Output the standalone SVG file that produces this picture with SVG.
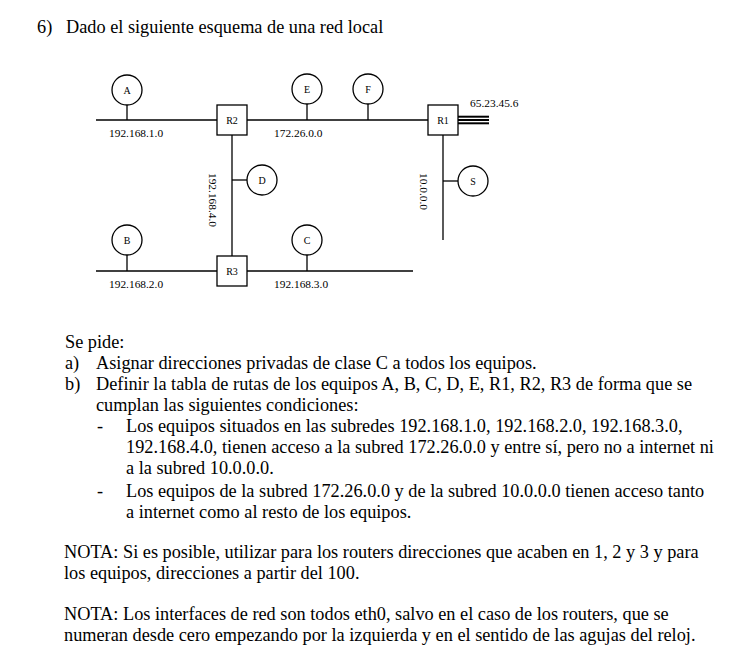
<svg xmlns="http://www.w3.org/2000/svg" width="755" height="669" viewBox="0 0 755 669">
<style>
  .ln { stroke: #000; stroke-width: 1.3; fill: none; }
  .node { stroke: #000; stroke-width: 1.3; fill: #fff; }
  .nl { font-family: "Liberation Serif", "Times New Roman", serif; font-size: 10px; fill: #000; text-anchor: middle; }
  .net { font-family: "Liberation Serif", "Times New Roman", serif; font-size: 11.4px; fill: #000; }
  .body { font-family: "Liberation Serif", "Times New Roman", serif; font-size: 18.3px; fill: #000; }
  .title { font-family: "Liberation Serif", "Times New Roman", serif; font-size: 18.3px; fill: #000; }
</style>
<rect width="755" height="669" fill="#fff"/>
<text class="title" x="37" y="33">6)</text>
<text class="title" x="66" y="33">Dado el siguiente esquema de una red local</text>

<g id="connectors">
  <line class="ln" x1="96" y1="120" x2="217" y2="120"/>
  <line class="ln" x1="247" y1="120" x2="428" y2="120"/>
  <line class="ln" x1="232" y1="135" x2="232" y2="256"/>
  <line class="ln" x1="96" y1="271" x2="217" y2="271"/>
  <line class="ln" x1="247" y1="271" x2="413" y2="271"/>
  <line class="ln" x1="443" y1="135" x2="443" y2="240"/>
  <line class="ln" x1="127" y1="105" x2="127" y2="120"/>
  <line class="ln" x1="307" y1="104" x2="307" y2="120"/>
  <line class="ln" x1="368" y1="104" x2="368" y2="120"/>
  <line class="ln" x1="127" y1="255" x2="127" y2="271"/>
  <line class="ln" x1="307" y1="255" x2="307" y2="271"/>
  <line class="ln" x1="232" y1="180" x2="247" y2="180"/>
  <line class="ln" x1="443" y1="181" x2="458" y2="181"/>
  <line stroke="#000" stroke-width="2" x1="458" y1="116.7" x2="489" y2="116.7"/>
  <line stroke="#000" stroke-width="2" x1="458" y1="120" x2="489" y2="120"/>
  <line stroke="#000" stroke-width="2" x1="458" y1="123.3" x2="489" y2="123.3"/>
</g>

<g id="labels">
  <text class="net" x="109" y="137">192.168.1.0</text>
  <text class="net" x="274" y="137">172.26.0.0</text>
  <text class="net" x="470" y="107">65.23.45.6</text>
  <text class="net" x="109" y="288">192.168.2.0</text>
  <text class="net" x="274" y="288">192.168.3.0</text>
  <text class="net" text-anchor="middle" transform="translate(208.5,200) rotate(90)">192.168.4.0</text>
  <text class="net" text-anchor="middle" transform="translate(420,191.5) rotate(90)">10.0.0.0</text>
</g>

<g id="A"><circle class="node" cx="127" cy="90" r="15"/><text class="nl" x="127" y="93.5">A</text></g>
<g id="E"><circle class="node" cx="307" cy="89" r="15"/><text class="nl" x="307" y="92.5">E</text></g>
<g id="F"><circle class="node" cx="368" cy="89" r="15"/><text class="nl" x="368" y="92.5">F</text></g>
<g id="D"><circle class="node" cx="262" cy="180" r="15"/><text class="nl" x="262" y="183.5">D</text></g>
<g id="S"><circle class="node" cx="473" cy="181" r="15"/><text class="nl" x="473" y="184.5">S</text></g>
<g id="B"><circle class="node" cx="127" cy="240" r="15"/><text class="nl" x="127" y="243.5">B</text></g>
<g id="C"><circle class="node" cx="307" cy="240" r="15"/><text class="nl" x="307" y="243.5">C</text></g>
<g id="R2"><rect class="node" x="217" y="105" width="30" height="30"/><text class="nl" x="232" y="124">R2</text></g>
<g id="R1"><rect class="node" x="428" y="105" width="30" height="30"/><text class="nl" x="443" y="124">R1</text></g>
<g id="R3"><rect class="node" x="217" y="256" width="30" height="30"/><text class="nl" x="232" y="275">R3</text></g>

<g id="text">
  <text class="body" x="65" y="348">Se pide:</text>
  <text class="body" x="65" y="369">a)</text>
  <text class="body" x="96" y="369">Asignar direcciones privadas de clase C a todos los equipos.</text>
  <text class="body" x="65" y="390">b)</text>
  <text class="body" x="96" y="390">Definir la tabla de rutas de los equipos A, B, C, D, E, R1, R2, R3 de forma que se</text>
  <text class="body" x="96" y="411">cumplan las siguientes condiciones:</text>
  <text class="body" x="97" y="432">-</text>
  <text class="body" x="126" y="432">Los equipos situados en las subredes 192.168.1.0, 192.168.2.0, 192.168.3.0,</text>
  <text class="body" x="126" y="453">192.168.4.0, tienen acceso a la subred 172.26.0.0 y entre sí, pero no a internet ni</text>
  <text class="body" x="126" y="474">a la subred 10.0.0.0.</text>
  <text class="body" x="97" y="497">-</text>
  <text class="body" x="126" y="497">Los equipos de la subred 172.26.0.0 y de la subred 10.0.0.0 tienen acceso tanto</text>
  <text class="body" x="126" y="518">a internet como al resto de los equipos.</text>
  <text class="body" x="64" y="558">NOTA: Si es posible, utilizar para los routers direcciones que acaben en 1, 2 y 3 y para</text>
  <text class="body" x="64" y="579">los equipos, direcciones a partir del 100.</text>
  <text class="body" x="64" y="620">NOTA: Los interfaces de red son todos eth0, salvo en el caso de los routers, que se</text>
  <text class="body" x="64" y="641">numeran desde cero empezando por la izquierda y en el sentido de las agujas del reloj.</text>
</g>
</svg>
